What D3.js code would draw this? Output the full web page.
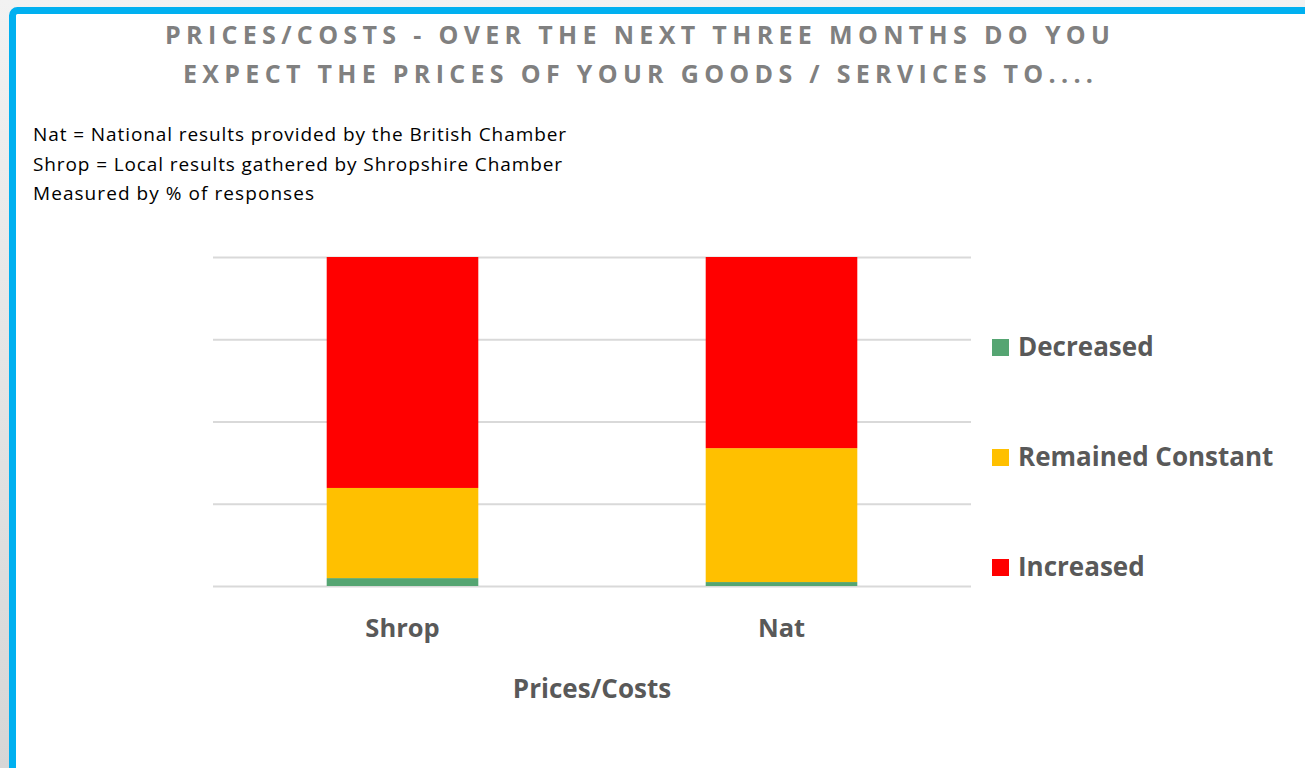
<!DOCTYPE html>
<html><head><meta charset="utf-8">
<script src="https://cdn.jsdelivr.net/npm/d3@7"></script>
<style>
html,body{margin:0;padding:0;background:#ececec;}
svg{display:block;}
text{font-family:"Open Sans",Lato,sans-serif;}
</style></head>
<body>
<script>
const categories = ["Shrop", "Nat"];
const seriesNames = ["Decreased", "Remained Constant", "Increased"];
const decreased = [2.4, 1.2];
const remainedConstant = [27.4, 40.7];
const increased = [70.2, 58.1];
const yTicks = [0, 25, 50, 75, 100];
const titleLines = ["PRICES/COSTS - OVER THE NEXT THREE MONTHS DO YOU", "EXPECT THE PRICES OF YOUR GOODS / SERVICES TO...."];
const notes = ["Nat = National results provided by the British Chamber", "Shrop = Local results gathered by Shropshire Chamber", "Measured by % of responses"];
const xTitle = "Prices/Costs";
const colors = ["#55A572", "#FFC000", "#FF0000"];

const W = 1305, H = 768;
const svg = d3.select("body").append("svg").attr("width", W).attr("height", H);

// background & frame
const bg = svg.append("defs").append("linearGradient").attr("id","bgg").attr("x1",0).attr("y1",0).attr("x2",0).attr("y2",1);
bg.append("stop").attr("offset","0%").attr("stop-color","#f2f2f2");
bg.append("stop").attr("offset","100%").attr("stop-color","#d6d6d6");
svg.append("rect").attr("width", W).attr("height", H).attr("fill", "url(#bgg)");
svg.append("rect").attr("x", 12.5).attr("y", 10.5).attr("width", W + 20).attr("height", H + 20)
  .attr("rx", 5).attr("fill", "#ffffff").attr("stroke", "#00B0F0").attr("stroke-width", 7);

// title
const titleWidths = [945, 910];
svg.append("g").selectAll("text").data(titleLines).join("text")
  .attr("x", (d, i) => i === 0 ? 165 : 183)
  .attr("y", (d, i) => 44 + i * 39)
  .attr("textLength", (d, i) => titleWidths[i])
  .attr("lengthAdjust", "spacing")
  .attr("fill", "#808080").attr("font-weight", "bold").attr("font-size", 25)
  .text(d => d);

// notes
const noteWidths = [533, 529, 281];
svg.append("g").selectAll("text").data(notes).join("text")
  .attr("x", 33).attr("y", (d, i) => 141 + i * 29.5)
  .attr("textLength", (d, i) => noteWidths[i])
  .attr("lengthAdjust", "spacing")
  .attr("fill", "#000").attr("font-size", 19)
  .text(d => d);

// scales
const x = d3.scaleBand().domain(categories).range([213, 971]).paddingInner(0.6).paddingOuter(0.3);
const y = d3.scaleLinear().domain([0, 100]).range([586, 257]);

// gridlines
const grid = svg.append("g").attr("transform", "translate(213,0)")
  .call(d3.axisLeft(y).tickValues(yTicks).tickSize(-(971 - 213)).tickFormat(""));
grid.select(".domain").remove();
grid.selectAll(".tick line").attr("stroke", "#d9d9d9").attr("stroke-width", 2);

// stacked data
const rows = categories.map((c, i) => ({cat: c, "Decreased": decreased[i], "Remained Constant": remainedConstant[i], "Increased": increased[i]}));
const stacked = d3.stack().keys(seriesNames)(rows);
svg.append("g").selectAll("g").data(stacked).join("g")
  .attr("fill", (d, i) => colors[i])
  .selectAll("rect").data(d => d).join("rect")
  .attr("x", d => x(d.data.cat))
  .attr("width", x.bandwidth())
  .attr("y", d => y(d[1]))
  .attr("height", d => y(d[0]) - y(d[1]));

// x axis labels
const xa = svg.append("g").attr("transform", "translate(0,586)")
  .call(d3.axisBottom(x).tickSize(0));
xa.select(".domain").remove();
xa.selectAll("text").attr("y", 51).attr("dy", null)
  .attr("font-family", "'Open Sans', sans-serif").attr("font-size", 25.5).attr("font-weight", "bold").attr("fill", "#595959");

svg.append("text").attr("x", 592).attr("y", 698).attr("text-anchor", "middle")
  .attr("font-size", 26).attr("font-weight", "bold").attr("fill", "#595959").text(xTitle);

// legend
const lg = svg.append("g").selectAll("g").data(seriesNames).join("g")
  .attr("transform", (d, i) => `translate(992,${339 + i * 110})`);
lg.append("rect").attr("width", 17).attr("height", 17).attr("fill", (d, i) => colors[i]);
lg.append("text").attr("x", 26).attr("y", 17).attr("font-size", 26).attr("font-weight", "bold").attr("fill", "#595959").text(d => d);
</script>
</body></html>
